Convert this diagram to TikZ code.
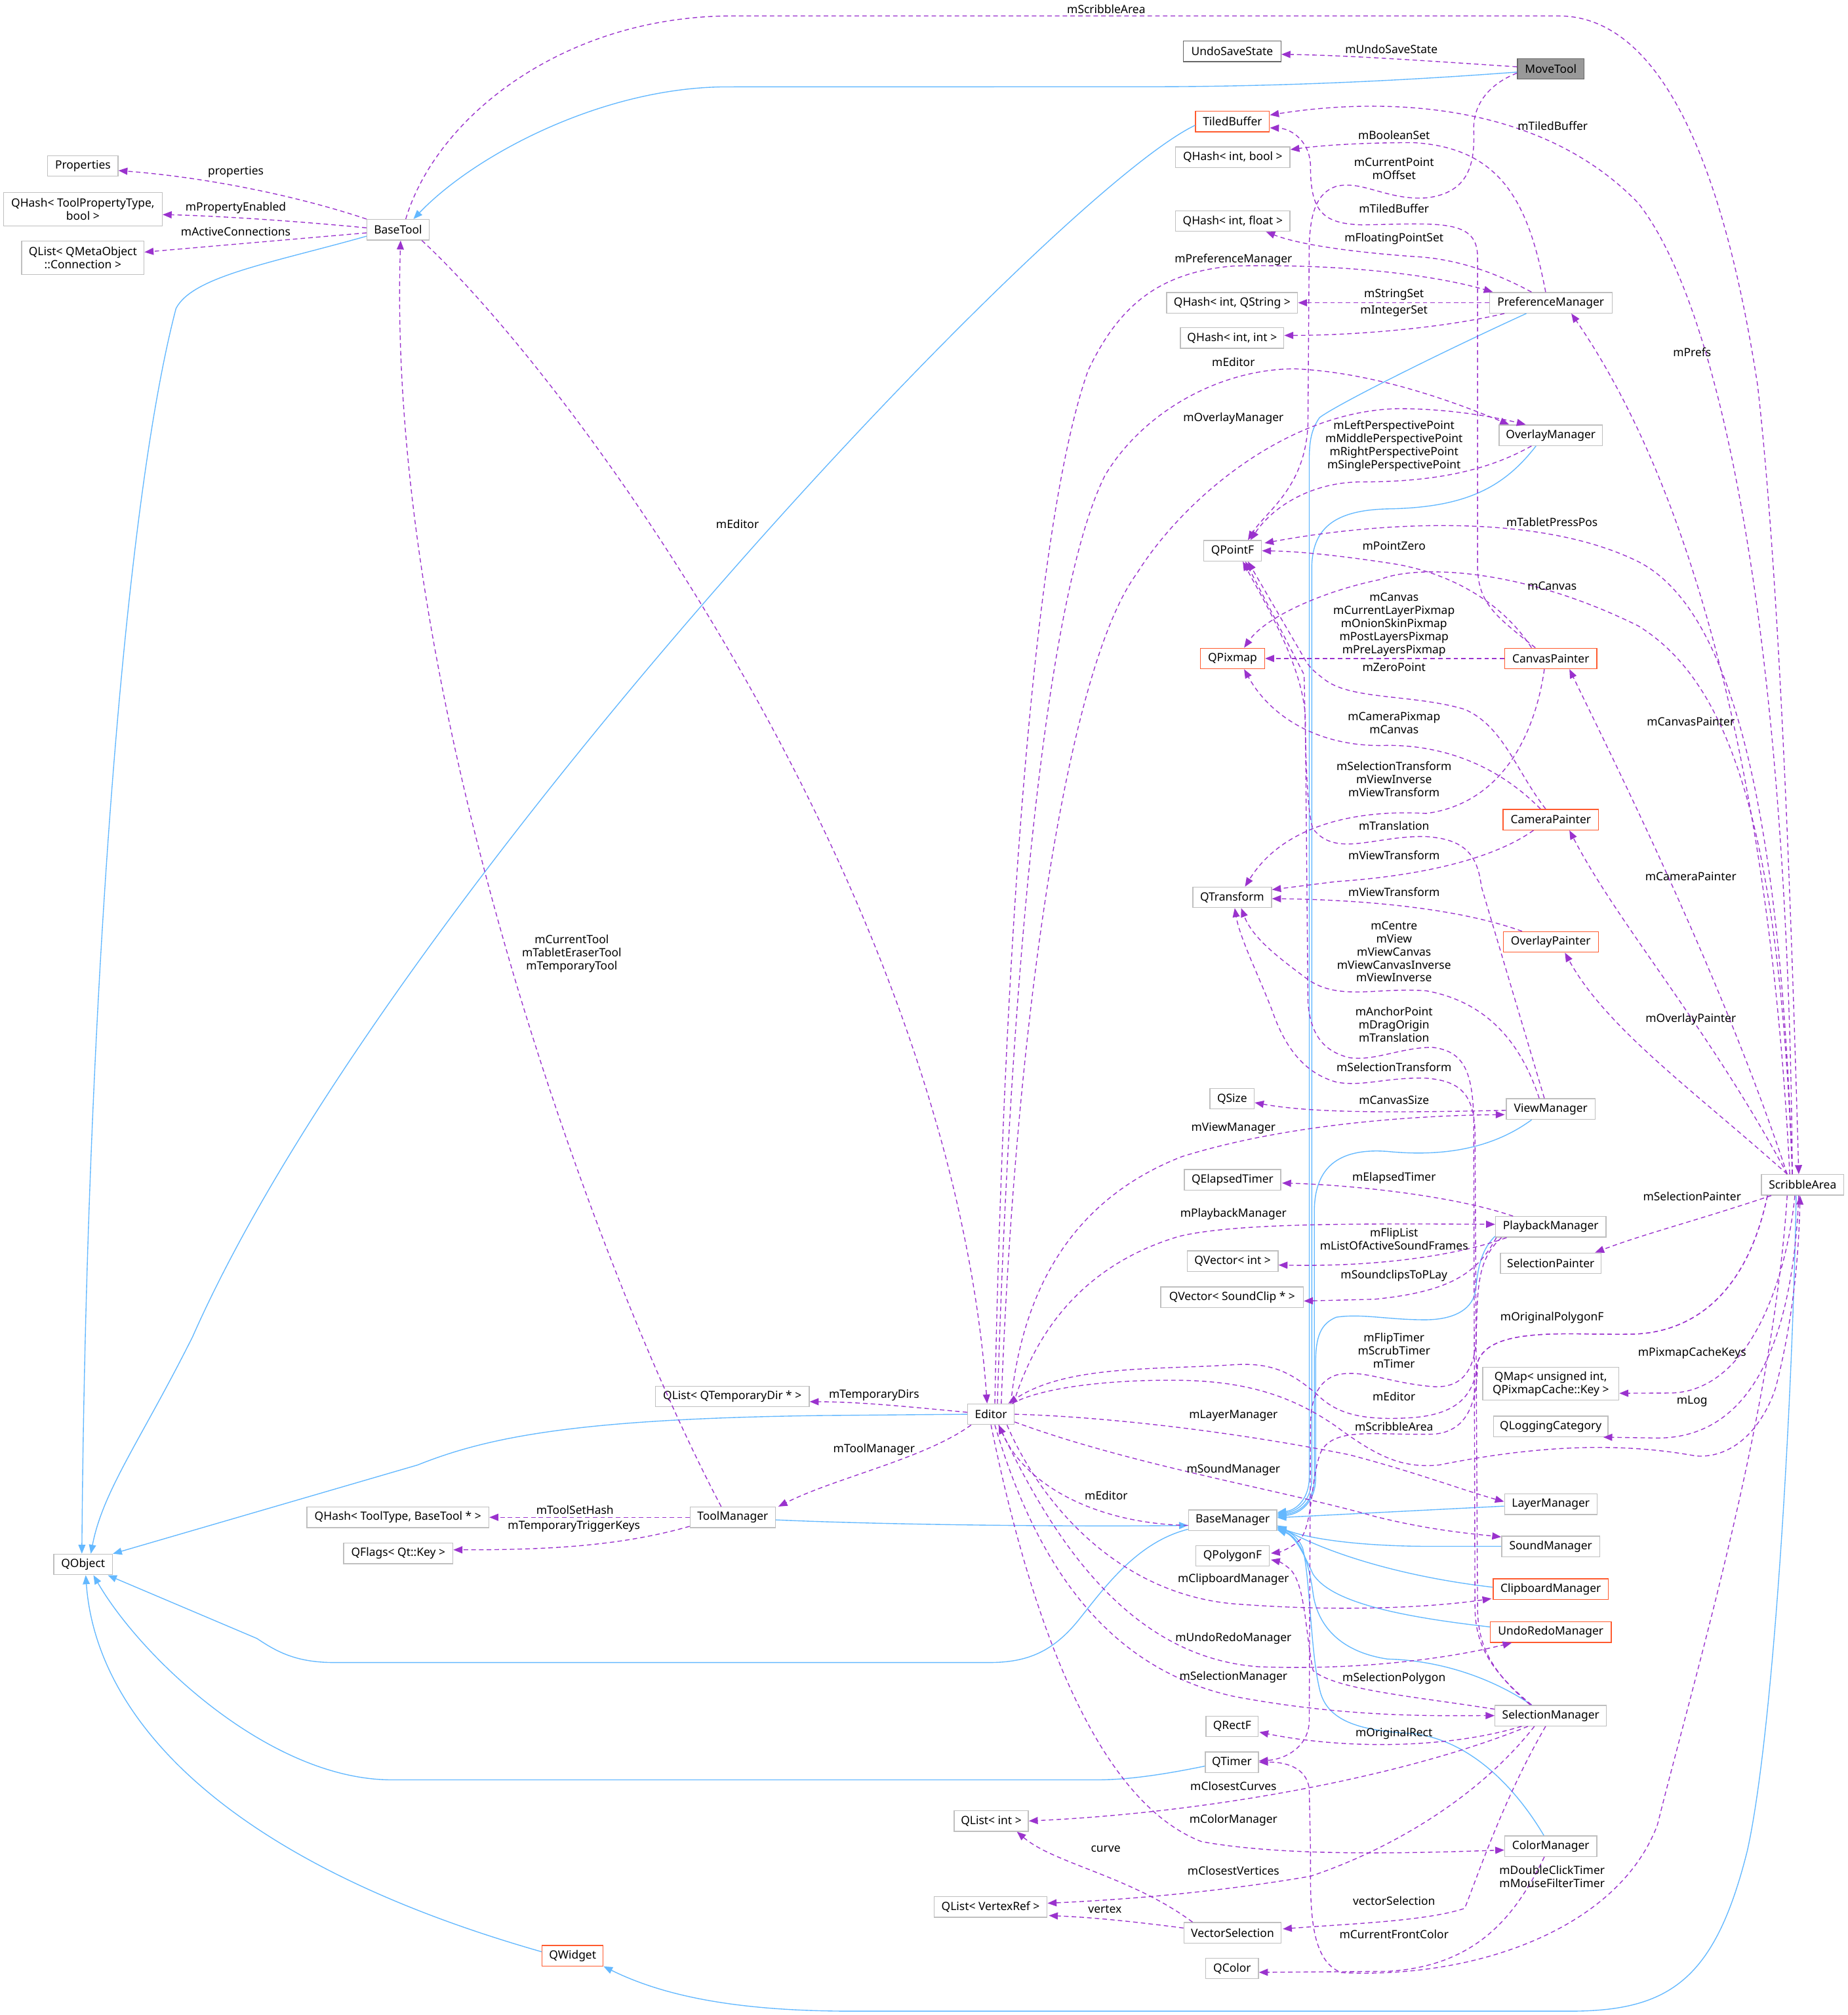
\documentclass[tikz,border=0pt]{standalone}
\usepackage{fontspec}
\setmainfont{Noto Sans}
\usetikzlibrary{arrows.meta,calc}
\definecolor{inhblue}{HTML}{63B8FF}
\definecolor{usepurple}{HTML}{9A32CD}
\definecolor{boxgray}{HTML}{BFBFBF}
\definecolor{docgray}{HTML}{666666}
\definecolor{truncred}{HTML}{FF5A2E}
\definecolor{rootfill}{HTML}{999999}
\begin{document}
\begin{tikzpicture}[x=1pt,y=-1pt,
  cls/.style={draw=boxgray, fill=white, line width=0.7pt, inner sep=0pt, minimum height=16pt, font=\fontsize{8.9}{10.2}\selectfont, align=center},
  cls2/.style={cls, minimum height=26pt},
  trunc/.style={cls, draw=truncred},
  lbl/.style={inner sep=0pt, font=\fontsize{8.9}{10.2}\selectfont, align=center},
  inh/.style={draw=inhblue, line width=0.7pt, -{Triangle[length=7pt,width=5.5pt]}},
  use/.style={draw=usepurple, line width=0.7pt, dash pattern=on 3.5pt off 2.5pt, -{Triangle[length=7pt,width=5.5pt]}},
]
\useasboundingbox (0,0) rectangle (1438,1568);

% ---------------- nodes ----------------
\node[cls, draw=docgray, minimum width=76pt] (undo) at (959,40) {UndoSaveState};
\node[cls, draw=docgray, fill=rootfill, minimum width=52pt] (movetool) at (1207,53.6) {MoveTool};
\node[trunc, minimum width=57.5pt] (tiled) at (959.3,94.5) {TiledBuffer};
\node[cls, minimum width=89pt] (qhbool) at (959.5,122.4) {QHash< int, bool >};
\node[cls, minimum width=54.7pt] (props) at (64.5,129.2) {Properties};
\node[cls2, minimum width=123.5pt] (qhtpt) at (64.5,162.7) {QHash< ToolPropertyType,\\ bool >};
\node[cls, minimum width=48.4pt] (basetool) at (309.8,178.8) {BaseTool};
\node[cls, minimum width=89pt] (qhfloat) at (959.5,172) {QHash< int, float >};
\node[cls2, minimum width=95.3pt] (qlmeta) at (64.5,200.6) {QList< QMetaObject\\ ::Connection >};
\node[cls, minimum width=102pt] (qhstr) at (959,235.6) {QHash< int, QString >};
\node[cls, minimum width=95.5pt] (prefmgr) at (1207,235.6) {PreferenceManager};
\node[cls, minimum width=80.5pt] (qhint) at (959,263) {QHash< int, int >};
\node[cls, minimum width=80.3pt] (ovlmgr) at (1207,338.7) {OverlayManager};
\node[cls, minimum width=45.2pt] (qpointf) at (959.3,428.6) {QPointF};
\node[trunc, minimum width=50pt] (qpixmap) at (959.3,512.4) {QPixmap};
\node[trunc, minimum width=71.6pt] (canvpaint) at (1207,512.4) {CanvasPainter};
\node[trunc, minimum width=74.2pt] (campaint) at (1207,637.8) {CameraPainter};
\node[cls, minimum width=61.3pt] (qtransform) at (959,698.3) {QTransform};
\node[trunc, minimum width=74pt] (ovlpaint) at (1207,733) {OverlayPainter};
\node[cls, minimum width=34.5pt] (qsize) at (959,855) {QSize};
\node[cls, minimum width=69pt] (viewmgr) at (1207,863) {ViewManager};
\node[cls, minimum width=75pt] (qelapsed) at (959.3,918) {QElapsedTimer};
\node[cls, minimum width=64pt] (scribble) at (1403,922) {ScribbleArea};
\node[cls, minimum width=86pt] (playmgr) at (1207,954.7) {PlaybackManager};
\node[cls, minimum width=70.7pt] (qvint) at (959.4,981.4) {QVector< int >};
\node[cls, minimum width=78.3pt] (selpaint) at (1207,983) {SelectionPainter};
\node[cls, minimum width=111pt] (qvsound) at (959,1009.4) {QVector< SoundClip * >};
\node[cls2, minimum width=106pt, minimum height=25.7pt] (qmap) at (1207,1076.7) {QMap< unsigned int,\\ QPixmapCache::Key >};
\node[cls, minimum width=119.7pt] (qltemp) at (570,1086.7) {QList< QTemporaryDir * >};
\node[cls, minimum width=36.2pt] (editor) at (771.3,1100.5) {Editor};
\node[cls, minimum width=89pt] (qlog) at (1207,1110) {QLoggingCategory};
\node[cls, minimum width=72pt] (layermgr) at (1207,1170.5) {LayerManager};
\node[cls, minimum width=66.3pt] (toolmgr) at (570.3,1180.7) {ToolManager};
\node[cls, minimum width=141.6pt] (qhtool) at (309.7,1180.7) {QHash< ToolType, BaseTool * >};
\node[cls, minimum width=68.7pt] (basemgr) at (959.4,1183) {BaseManager};
\node[cls, minimum width=76.5pt] (soundmgr) at (1207,1203.3) {SoundManager};
\node[cls, minimum width=85pt] (qflags) at (310,1208.8) {QFlags< Qt::Key >};
\node[cls, minimum width=57pt] (qpolyf) at (959.3,1210.7) {QPolygonF};
\node[cls, minimum width=45.6pt] (qobject) at (64.7,1217.4) {QObject};
\node[trunc, minimum width=89.6pt] (clipmgr) at (1207,1236.6) {ClipboardManager};
\node[trunc, minimum width=94pt] (undomgr) at (1207,1270) {UndoRedoManager};
\node[cls, minimum width=86.8pt] (selmgr) at (1207,1335) {SelectionManager};
\node[cls, minimum width=40.6pt] (qrectf) at (959,1343.4) {QRectF};
\node[cls, minimum width=41.4pt] (qtimer) at (958.8,1371.3) {QTimer};
\node[cls, minimum width=57.8pt] (qlint) at (771.5,1417) {QList< int >};
\node[cls, minimum width=71.7pt] (colormgr) at (1207,1436.6) {ColorManager};
\node[cls, minimum width=88pt] (qlvert) at (771,1484) {QList< VertexRef >};
\node[cls, minimum width=75.6pt] (vecsel) at (959.3,1504) {VectorSelection};
\node[trunc, minimum width=47.4pt] (qwidget) at (445.7,1521.8) {QWidget};
\node[cls, minimum width=41pt] (qcolor) at (959,1531.8) {QColor};

% ---------------- inheritance (blue) ----------------
\draw[inh] ($(movetool.west)+(0,2.5)$) .. controls (1050,66) and (950,67.5) .. (893,67.5) -- (566,67.6) .. controls (470,67.6) and (370,120) .. ($(basetool.north)+(12,0)$);
\draw[inh] ($(basetool.west)+(0,5)$) .. controls (210,205) and (150,215) .. (137,240) .. controls (95,400) and (67,800) .. ($(qobject.north)+(-1,0)$);
\draw[inh] ($(tiled.west)+(0,3)$) .. controls (820,150) and (300,700) .. (150,1040) .. controls (110,1120) and (80,1160) .. ($(qobject.north)+(6,0)$);
\draw[inh] (editor.west) -- (640,1101.5) .. controls (450,1104) and (380,1118) .. (325,1140) -- (qobject.north east);
\draw[inh] ($(toolmgr.east)+(0,2)$) .. controls (700,1187) and (850,1188) .. ($(basemgr.west)+(0,4)$);
\draw[inh] ($(basemgr.west)+(0,7)$) .. controls (885,1200) and (860,1235) .. (840,1260) .. controls (820,1285) and (800,1293.7) .. (770,1293.7) -- (260,1293.7) .. controls (230,1293.7) and (215,1285) .. (200,1275) -- ($(qobject.south east)+(-4,0)$);
\draw[inh] ($(qtimer.west)+(0,3)$) .. controls (910,1380) and (880,1385) .. (854,1385) -- (305,1385) .. controls (210,1385) and (110,1290) .. ($(qobject.south)+(8,0)$);
\draw[inh] ($(qwidget.west)+(0,-3)$) .. controls (180,1450) and (75,1340) .. ($(qobject.south)+(2,0)$);
\draw[inh] ($(scribble.south)+(-5,0)$) .. controls (1395,1100) and (1380,1350) .. (1360,1440) .. controls (1335,1540) and (1300,1565) .. (1222,1565) -- (663,1565) .. controls (580,1565) and (520,1555) .. (qwidget.south east);
\draw[inh] ($(prefmgr.south)+(-19,0)$) .. controls (1120,275) and (1040,315) .. (1027,325) .. controls (1020,335) and (1019,345) .. (1019,360) -- (1019,1150) .. controls (1019,1165) and (1010,1175) .. ($(basemgr.east)+(0,-6)$);
\draw[inh] ($(ovlmgr.south)+(-11.5,0)$) .. controls (1170,380) and (1140,395) .. (1080,396) .. controls (1040,397) and (1022,410) .. (1021,440) -- (1021,1150) .. controls (1021,1168) and (1010,1176) .. ($(basemgr.east)+(0,-5)$);
\draw[inh] ($(viewmgr.south west)+(20,0)$) .. controls (1160,895) and (1120,900) .. (1080,896) .. controls (1040,893) and (1024,910) .. (1023,940) -- (1023,1150) .. controls (1023,1168) and (1012,1177) .. ($(basemgr.east)+(0,-4)$);
\draw[inh] ($(playmgr.south west)+(0,-1)$) .. controls (1150,975) and (1150,995) .. (1148,1006) .. controls (1145,1020) and (1130,1027) .. (1109,1027) .. controls (1080,1027) and (1060,1022) .. (1040,1025) .. controls (1028,1030) and (1024,1040) .. (1024,1060) -- (1024,1150) .. controls (1024,1168) and (1013,1178) .. ($(basemgr.east)+(0,-3)$);
\draw[inh] ($(layermgr.west)+(0,1.5)$) -- ($(basemgr.east)+(0,-2)$);
\draw[inh] (soundmgr.west) -- (1110,1203.3) .. controls (1060,1203) and (1020,1198) .. ($(basemgr.east)+(0,5)$);
\draw[inh] ($(clipmgr.west)+(0,-1.5)$) .. controls (1100,1228) and (1040,1212) .. ($(basemgr.east)+(0,4)$);
\draw[inh] ($(undomgr.west)+(0,-4)$) .. controls (1080,1257) and (1035,1245) .. (1022,1225) .. controls (1013,1205) and (1007,1195) .. ($(basemgr.south east)+(0,-1)$);
\draw[inh] ($(selmgr.north)+(-15,0)$) .. controls (1160,1305) and (1120,1292) .. (1080,1291) .. controls (1040,1285) and (1025,1262) .. (1022,1240) .. controls (1018,1210) and (1010,1196) .. ($(basemgr.south east)+(0,-2)$);
\draw[inh] ($(colormgr.north)+(-5.4,0)$) .. controls (1185,1400) and (1150,1355) .. (1100,1349) .. controls (1060,1347) and (1035,1340) .. (1028,1318) .. controls (1020,1290) and (1020,1230) .. (1014,1205) .. controls (1010,1195) and (1003,1192) .. ($(basemgr.south east)+(0,-3)$);

% ---------------- usage (purple dashed) ----------------
% MoveTool
\draw[use] ($(movetool.west)+(0,-1.6)$) .. controls (1120,48) and (1050,43) .. ($(undo.east)+(0,2.3)$);
\draw[use] ($(movetool.west)+(0,3.3)$) .. controls (1160,65) and (1147,80) .. (1147,100) .. controls (1148,125) and (1145,150) .. (1110,154) .. controls (1080,156) and (1060,140) .. (1040,145) .. controls (1025,150) and (1020,165) .. (1019,190) -- (1018,330) .. controls (1016,380) and (985,398) .. ($(qpointf.north)+(12,0)$);
% BaseTool
\draw[use] (basetool.north west) .. controls (230,152) and (160,138) .. ($(props.east)+(0,3.5)$);
\draw[use] ($(basetool.west)+(0,-1.5)$) .. controls (230,172) and (170,168) .. ($(qhtpt.east)+(0,4.3)$);
\draw[use] ($(basetool.west)+(0,2.4)$) .. controls (230,186) and (160,192) .. ($(qlmeta.east)+(0,-4.4)$);
\draw[use] ($(basetool.north)+(6,0)$) .. controls (340,90) and (440,12.4) .. (570,12.4) -- (1213,12.4) .. controls (1300,12.4) and (1345,150) .. (1368,300) .. controls (1385,450) and (1394,700) .. ($(scribble.north)+(-3,0)$);
\draw[use] ($(basetool.south east)+(-6,0)$) .. controls (450,300) and (740,700) .. ($(editor.north)+(-3,0)$);
% ToolManager
\draw[use] ($(toolmgr.north)+(-9,0)$) .. controls (470,1000) and (300,550) .. ($(basetool.south)+(2,0)$);
\draw[use] (toolmgr.west) -- (qhtool.east);
\draw[use] ($(toolmgr.west)+(0,7)$) .. controls (480,1204) and (420,1206) .. ($(qflags.east)+(0,-2.8)$);
% Editor
\draw[use] ($(editor.west)+(0,-1.5)$) .. controls (700,1094) and (670,1091) .. ($(qltemp.east)+(0,4)$);
\draw[use] ($(editor.south west)+(3,0)$) .. controls (720,1135) and (650,1150) .. ($(toolmgr.north east)+(2,0)$);
\draw[use] ($(editor.north)+(3,0)$) .. controls (780,800) and (800,420) .. (847,288) .. controls (870,240) and (900,212) .. (960,207) .. controls (1050,205) and (1120,215) .. ($(prefmgr.north west)+(3,0)$);
\draw[use] ($(editor.north)+(8,0)$) .. controls (790,800) and (830,520) .. (885,446) .. controls (920,390) and (1000,320) .. (1088,318) .. controls (1130,318) and (1165,325) .. ($(ovlmgr.north west)+(21,0)$);
\draw[use] ($(editor.north)+(5,0)$) .. controls (785,800) and (810,470) .. (860,370) .. controls (890,320) and (950,287) .. (1008,287) .. controls (1070,290) and (1130,312) .. ($(ovlmgr.north west)+(8,0)$);
\draw[use] ($(editor.north east)+(-3,0)$) .. controls (795,1010) and (830,935) .. (920,900) .. controls (1000,875) and (1100,868) .. ($(viewmgr.south west)+(-1,-4)$);
\draw[use] ($(editor.north east)+(-1,0)$) .. controls (805,1040) and (840,985) .. (918,962) .. controls (960,952) and (1050,952) .. ($(playmgr.west)+(0,-2)$);
\draw[use] (editor.east) .. controls (850,1102) and (950,1112) .. (1050,1132) .. controls (1100,1145) and (1140,1160) .. ($(layermgr.west)+(0,-2)$);
\draw[use] ($(editor.east)+(0,6)$) .. controls (880,1140) and (1000,1160) .. (1070,1180) .. controls (1110,1190) and (1140,1193) .. ($(soundmgr.north west)+(0,1)$);
\draw[use] ($(editor.south east)+(-6,0)$) .. controls (810,1170) and (870,1240) .. (960,1248) .. controls (1050,1255) and (1120,1250) .. ($(clipmgr.south west)+(-1,-1)$);
\draw[use] ($(editor.south)+(6,0)$) .. controls (820,1200) and (880,1290) .. (980,1297) .. controls (1060,1300) and (1130,1290) .. ($(undomgr.south west)+(17,0)$);
\draw[use] ($(editor.south)+(3,0)$) .. controls (810,1230) and (870,1300) .. (960,1320) .. controls (1050,1337) and (1120,1335) .. (selmgr.west);
\draw[use] (editor.south) .. controls (800,1250) and (850,1400) .. (935,1433) .. controls (1000,1445) and (1100,1442) .. ($(colormgr.west)+(0,3)$);
\draw[use] ($(editor.north east)+(-2,0)$) .. controls (810,1080) and (860,1074) .. (911,1074) .. controls (960,1074) and (1000,1082) .. (1040,1110) .. controls (1070,1132) and (1090,1143) .. (1120,1140) .. controls (1180,1128) and (1250,1120) .. (1320,1133) .. controls (1350,1135) and (1372,1110) .. (1382,1080) .. controls (1395,1030) and (1400,980) .. ($(scribble.south)+(-2,0)$);
% BaseManager
\draw[use] ($(basemgr.west)+(0,4)$) .. controls (860,1186) and (800,1160) .. ($(editor.south)+(6,0)$);
% ScribbleArea
\draw[use] ($(scribble.north)+(-8,0)$) .. controls (1392,500) and (1340,240) .. (1275,158) .. controls (1200,80) and (1080,75) .. ($(tiled.east)+(0,-5)$);
\draw[use] ($(scribble.north)+(-10,0)$) .. controls (1380,650) and (1330,400) .. ($(prefmgr.south)+(16,0)$);
\draw[use] ($(scribble.north)+(-8,0)$) .. controls (1385,600) and (1340,470) .. (1275,437) .. controls (1200,400) and (1080,405) .. ($(qpointf.east)+(2,-6)$);
\draw[use] ($(scribble.north)+(-8,0)$) .. controls (1385,640) and (1345,530) .. (1275,487) .. controls (1180,440) and (1100,440) .. (1074,451) .. controls (1030,460) and (985,480) .. ($(qpixmap.north)+(9,0)$);
\draw[use] ($(scribble.north)+(-12,0)$) .. controls (1340,760) and (1260,600) .. ($(canvpaint.south)+(14.5,0)$);
\draw[use] ($(scribble.north)+(-12,0)$) .. controls (1330,800) and (1260,720) .. ($(campaint.south)+(14.5,0)$);
\draw[use] ($(scribble.north)+(-12,0)$) .. controls (1320,850) and (1250,800) .. ($(ovlpaint.south)+(11,0)$);
\draw[use] ($(scribble.south west)+(8,0)$) .. controls (1320,950) and (1280,960) .. ($(selpaint.north east)+(-5,0)$);
\draw[use] ($(scribble.south)+(-6,0)$) .. controls (1390,1000) and (1360,1083) .. (1300,1084) -- ($(qmap.east)+(0,7.5)$);
\draw[use] ($(scribble.south)+(-3,0)$) .. controls (1395,1050) and (1360,1119) .. (1290,1119) -- ($(qlog.south east)+(-4,0)$);
\draw[use] ($(scribble.south)+(-12,0)$) .. controls (1380,1100) and (1320,1300) .. (1290,1420) .. controls (1260,1500) and (1150,1540) .. (1044,1535) .. controls (1018,1525) and (1020,1480) .. (1020,1440) -- (1019,1392) .. controls (1017,1375) and (1000,1371) .. (qtimer.east);
\draw[use] ($(scribble.south west)+(5,0)$) .. controls (1360,1005) and (1320,1035) .. (1275,1038) .. controls (1230,1040) and (1160,1030) .. (1150,1060) .. controls (1150,1095) and (1140,1114) .. (1116,1116) .. controls (1070,1117) and (1038,1110) .. (1028,1130) .. controls (1020,1150) and (1022,1185) .. (1012,1198) .. controls (1005,1205) and (995,1208) .. ($(qpolyf.east)+(1,-2)$);
\draw[use] ($(scribble.south west)+(5,0)$) .. controls (1360,1005) and (1320,1035) .. (1275,1038) .. controls (1230,1040) and (1160,1030) .. (1150,1060) .. controls (1148,1085) and (1135,1100) .. (1101,1103) .. controls (1060,1106) and (1040,1100) .. (1025,1085) .. controls (1005,1068) and (990,1060) .. (960,1062) .. controls (900,1066) and (830,1062) .. ($(editor.north east)+(-5,0)$);
% PreferenceManager
\draw[use] ($(prefmgr.north)+(-4,0)$) .. controls (1190,160) and (1170,115) .. (1100,111) .. controls (1060,111) and (1030,113) .. ($(qhbool.east)+(0,-6)$);
\draw[use] ($(prefmgr.north)+(-15,0)$) .. controls (1160,210) and (1130,201) .. (1100,199.6) .. controls (1050,196) and (1010,190) .. ($(qhfloat.south east)+(-19,0)$);
\draw[use] (prefmgr.west) -- (qhstr.east);
\draw[use] ($(prefmgr.south west)+(12,0)$) .. controls (1120,256) and (1050,261) .. ($(qhint.east)+(0,-2)$);
% OverlayManager
\draw[use] ($(ovlmgr.south)+(-15,0)$) .. controls (1160,365) and (1120,375) .. (1060,375) .. controls (1020,375) and (990,395) .. ($(qpointf.north)+(14,0)$);
% CanvasPainter
\draw[use] (canvpaint.west) -- (qpixmap.east);
\draw[use] ($(canvpaint.north)+(-15,0)$) .. controls (1170,470) and (1130,445) .. (1080,438) .. controls (1040,432) and (1010,429) .. (qpointf.east);
\draw[use] ($(canvpaint.north)+(-12,0)$) .. controls (1165,480) and (1150,470) .. (1150,440) -- (1150,200) .. controls (1150,170) and (1120,174) .. (1060,175) .. controls (1030,174) and (1020,165) .. (1020,130) .. controls (1020,110) and (1005,100) .. ($(tiled.east)+(0,5)$);
\draw[use] ($(canvpaint.south)+(-5,0)$) .. controls (1195,570) and (1170,625) .. (1110,633) .. controls (1060,630) and (1000,640) .. ($(qtransform.north)+(10,0)$);
% CameraPainter
\draw[use] ($(campaint.north)+(-8,0)$) .. controls (1170,600) and (1130,580) .. (1080,580) .. controls (1030,582) and (990,560) .. ($(qpixmap.south)+(9,0)$);
\draw[use] ($(campaint.north)+(-4,0)$) .. controls (1180,600) and (1170,565) .. (1140,552) .. controls (1100,540) and (1050,545) .. (1030,528) .. controls (1022,522) and (1018,518) .. (1015,512) -- ($(qpointf.south)+(12,0)$);
\draw[use] ($(campaint.south west)+(24,0)$) .. controls (1160,670) and (1100,682) .. (1040,686) -- ($(qtransform.east)+(0,-6)$);
% OverlayPainter
\draw[use] ($(ovlpaint.north west)+(15,0)$) .. controls (1130,705) and (1050,700) .. ($(qtransform.east)+(0,1)$);
% ViewManager
\draw[use] ($(viewmgr.north)+(-5,0)$) -- (1153,690) .. controls (1150,665) and (1140,653) .. (1110,651) .. controls (1070,650) and (1040,668) .. (1022,645) .. controls (1016,630) and (1016,560) .. (1015,525) -- ($(qpointf.south)+(10,0)$);
\draw[use] ($(viewmgr.north)+(-9,0)$) .. controls (1185,815) and (1160,780) .. (1110,771) .. controls (1070,768) and (1040,780) .. (1015,760) .. controls (995,745) and (975,730) .. ($(qtransform.south)+(7,0)$);
\draw[use] ($(viewmgr.west)+(0,1)$) .. controls (1080,866) and (1020,866) .. ($(qsize.east)+(0,3)$);
% SelectionManager
\draw[use] ($(selmgr.north)+(-15,0)$) .. controls (1160,1300) and (1148,1280) .. (1148,1250) -- (1147,870) .. controls (1146,835) and (1140,818) .. (1115,815) .. controls (1090,815) and (1070,826) .. (1050,823) .. controls (1030,818) and (1020,805) .. (1018,780) -- (1016,560) .. controls (1015,520) and (985,470) .. ($(qpointf.south)+(8,0)$);
\draw[use] ($(selmgr.north)+(-16,0)$) .. controls (1160,1300) and (1150,1280) .. (1150,1250) -- (1148,880) .. controls (1147,850) and (1135,841) .. (1110,839) .. controls (1080,838) and (1060,846) .. (1040,842) .. controls (1015,835) and (1000,815) .. (990,786) .. controls (980,760) and (965,730) .. ($(qtransform.south)+(2,0)$);
\draw[use] ($(selmgr.west)+(0,-5)$) .. controls (1100,1320) and (1040,1315) .. (1022,1300) .. controls (1016,1270) and (1016,1235) .. (1005,1222) .. controls (1000,1217) and (995,1215) .. ($(qpolyf.east)+(1,3)$);
\draw[use] ($(selmgr.south west)+(21,0)$) .. controls (1130,1360) and (1050,1362) .. ($(qrectf.east)+(0.5,4.5)$);
\draw[use] ($(selmgr.south west)+(26,0)$) .. controls (1100,1380) and (950,1410) .. (qlint.east);
\draw[use] ($(selmgr.south west)+(31,0)$) .. controls (1150,1400) and (1080,1440) .. (1020,1460) .. controls (950,1472) and (880,1478) .. ($(qlvert.east)+(0,-3)$);
\draw[use] ($(selmgr.south)+(-4,0)$) .. controls (1170,1400) and (1150,1460) .. (1140,1485) .. controls (1110,1495) and (1050,1497) .. ($(vecsel.east)+(1,-3)$);
% ColorManager
\draw[use] ($(colormgr.south)+(-5,0)$) .. controls (1180,1490) and (1150,1530) .. (1080,1534) -- ($(qcolor.east)+(0,3)$);
% VectorSelection
\draw[use] ($(vecsel.north west)+(7,0)$) .. controls (880,1460) and (820,1450) .. ($(qlint.south)+(20,0)$);
\draw[use] ($(vecsel.west)+(0,-3.7)$) .. controls (880,1495) and (850,1492) .. ($(qlvert.east)+(1,6.6)$);
% PlaybackManager
\draw[use] ($(playmgr.north west)+(14,0)$) .. controls (1130,930) and (1050,922) .. ($(qelapsed.east)+(0.7,2.6)$);
\draw[use] ($(playmgr.south west)+(9,0)$) .. controls (1140,975) and (1080,986) .. ($(qvint.east)+(0,3)$);
\draw[use] ($(playmgr.south west)+(1,0)$) .. controls (1150,990) and (1130,1005) .. (1070,1011) -- ($(qvsound.east)+(0,3)$);
\draw[use] ($(playmgr.south west)+(5,0)$) .. controls (1150,980) and (1150,1000) .. (1149,1040) .. controls (1148,1075) and (1130,1080) .. (1115,1079) .. controls (1080,1076) and (1060,1065) .. (1040,1070) .. controls (1025,1075) and (1020,1090) .. (1020,1110) -- (1019,1340) .. controls (1018,1360) and (1000,1369) .. ($(qtimer.east)+(0,-1)$);

% ---------------- labels ----------------
\node[lbl] (l01) at (861,7) {mScribbleArea};
\node[lbl] (l02) at (1083,38.3) {mUndoSaveState};
\node[lbl] (l03) at (1208.5,97.9) {mTiledBuffer};
\node[lbl] (l04) at (1085,105.3) {mBooleanSet};
\node[lbl] (l05) at (183.5,133.6) {properties};
\node[lbl] (l06) at (1085,131.5) {mCurrentPoint\\mOffset};
\node[lbl] (l07) at (183.5,161.7) {mPropertyEnabled};
\node[lbl] (l08) at (1085,162.2) {mTiledBuffer};
\node[lbl] (l09) at (183.5,180.4) {mActiveConnections};
\node[lbl] (l10) at (1085,185.6) {mFloatingPointSet};
\node[lbl] (l11) at (960,202) {mPreferenceManager};
\node[lbl] (l12) at (1085,229.3) {mStringSet};
\node[lbl] (l13) at (1085,242) {mIntegerSet};
\node[lbl] (l14) at (1317,274) {mPrefs};
\node[lbl] (l15) at (960,281.7) {mEditor};
\node[lbl] (l16) at (960,325.4) {mOverlayManager};
\node[lbl] (l17) at (1085,346.8) {mLeftPerspectivePoint\\mMiddlePerspectivePoint\\mRightPerspectivePoint\\mSinglePerspectivePoint};
\node[lbl] (l18) at (1208,406.2) {mTabletPressPos};
\node[lbl] (l19) at (574,408) {mEditor};
\node[lbl] (l20) at (1085,424.8) {mPointZero};
\node[lbl] (l21) at (1208,455.9) {mCanvas};
\node[lbl] (l22) at (1085,485.9) {mCanvas\\mCurrentLayerPixmap\\mOnionSkinPixmap\\mPostLayersPixmap\\mPreLayersPixmap};
\node[lbl] (l23) at (1085,519.2) {mZeroPoint};
\node[lbl] (l24) at (1085,562.5) {mCameraPixmap\\mCanvas};
\node[lbl] (l25) at (1316,561.5) {mCanvasPainter};
\node[lbl] (l26) at (1085,606.5) {mSelectionTransform\\mViewInverse\\mViewTransform};
\node[lbl] (l27) at (1085,642.6) {mTranslation};
\node[lbl] (l28) at (1085,665.7) {mViewTransform};
\node[lbl] (l29) at (1316,682) {mCameraPainter};
\node[lbl] (l30) at (1085,694.3) {mViewTransform};
\node[lbl] (l31) at (445,742.1) {mCurrentTool\\mTabletEraserTool\\mTemporaryTool};
\node[lbl] (l32) at (1085,740.5) {mCentre\\mView\\mViewCanvas\\mViewCanvasInverse\\mViewInverse};
\node[lbl] (l33) at (1085,797) {mAnchorPoint\\mDragOrigin\\mTranslation};
\node[lbl] (l34) at (1316,793) {mOverlayPainter};
\node[lbl] (l35) at (1085,830.6) {mSelectionTransform};
\node[lbl] (l36) at (1085,856) {mCanvasSize};
\node[lbl] (l37) at (960,878) {mViewManager};
\node[lbl] (l38) at (1085,916.6) {mElapsedTimer};
\node[lbl] (l39) at (1317,931) {mSelectionPainter};
\node[lbl] (l40) at (960,945) {mPlaybackManager};
\node[lbl] (l41) at (1085,964) {mFlipList\\mListOfActiveSoundFrames};
\node[lbl] (l42) at (1085,992.7) {mSoundclipsToPLay};
\node[lbl] (l43) at (1208,1025.6) {mOriginalPolygonF};
\node[lbl] (l44) at (1085,1050.9) {mFlipTimer\\mScrubTimer\\mTimer};
\node[lbl] (l45) at (1317,1053) {mPixmapCacheKeys};
\node[lbl] (l46) at (680.3,1085.7) {mTemporaryDirs};
\node[lbl] (l47) at (1085,1086.6) {mEditor};
\node[lbl] (l48) at (1317,1090.3) {mLog};
\node[lbl] (l49) at (960,1101.8) {mLayerManager};
\node[lbl] (l50) at (1085,1110.3) {mScribbleArea};
\node[lbl] (l51) at (680.3,1127.8) {mToolManager};
\node[lbl] (l52) at (960,1144) {mSoundManager};
\node[lbl] (l53) at (861,1163.9) {mEditor};
\node[lbl] (l54) at (447.5,1175) {mToolSetHash};
\node[lbl] (l55) at (446.7,1187.7) {mTemporaryTriggerKeys};
\node[lbl] (l56) at (960,1229.2) {mClipboardManager};
\node[lbl] (l57) at (960,1274.9) {mUndoRedoManager};
\node[lbl] (l58) at (960,1305.3) {mSelectionManager};
\node[lbl] (l59) at (1085,1306.3) {mSelectionPolygon};
\node[lbl] (l60) at (1085,1349) {mOriginalRect};
\node[lbl] (l61) at (960,1389.7) {mClosestCurves};
\node[lbl] (l62) at (960,1416.6) {mColorManager};
\node[lbl] (l63) at (860.6,1439) {curve};
\node[lbl] (l64) at (1208,1460.3) {mDoubleClickTimer\\mMouseFilterTimer};
\node[lbl] (l65) at (960,1455.6) {mClosestVertices};
\node[lbl] (l66) at (1085,1479) {vectorSelection};
\node[lbl] (l67) at (860,1485.5) {vertex};
\node[lbl] (l68) at (1085,1505) {mCurrentFrontColor};
\end{tikzpicture}
\end{document}
